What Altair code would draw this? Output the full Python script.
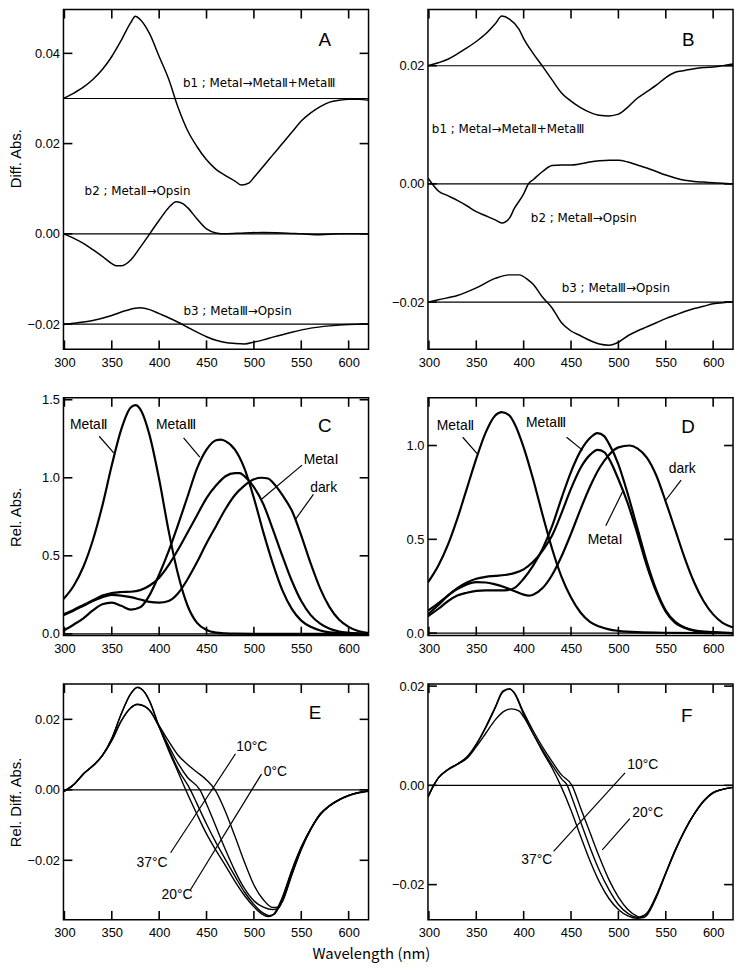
import altair as alt
import pandas as pd

# ---------------- data ----------------
XTICKS = [300, 350, 400, 450, 500, 550, 600]
XDOM = [299, 621]

# Panel A
A_B1_NM = [299, 310, 320, 330, 340, 350, 360, 370, 375, 380, 390, 400, 410, 420, 430, 440, 450, 460, 470, 480, 487, 495, 500, 510, 520, 530, 540, 550, 560, 570, 580, 590, 600, 610, 621]
A_B1_V = [0.0300, 0.0312, 0.0325, 0.0342, 0.0364, 0.0393, 0.0429, 0.0468, 0.0482, 0.0475, 0.0443, 0.0393, 0.0343, 0.0280, 0.0229, 0.0193, 0.0164, 0.0143, 0.0129, 0.0117, 0.0108, 0.0113, 0.0125, 0.0150, 0.0175, 0.0200, 0.0225, 0.0250, 0.0268, 0.0282, 0.0292, 0.0296, 0.0298, 0.0298, 0.0296]
A_B2_NM = [299, 310, 320, 330, 340, 350, 355, 360, 370, 380, 390, 400, 410, 418, 425, 430, 440, 450, 460, 470, 490, 510, 530, 550, 570, 590, 610, 621]
A_B2_V = [0.0, -0.0010, -0.0021, -0.0035, -0.0050, -0.0066, -0.0071, -0.0071, -0.0058, -0.0030, 0.0000, 0.0030, 0.0058, 0.0071, 0.0067, 0.0058, 0.0033, 0.0011, 0.0002, 0.0, 0.0002, 0.0003, 0.0002, 0.0, -0.0002, 0.0, 0.0, 0.0]
A_B3_NM = [299, 310, 330, 350, 365, 380, 390, 400, 410, 420, 430, 440, 450, 460, 470, 480, 490, 500, 510, 520, 540, 560, 580, 600, 621]
A_B3_V = [-0.0201, -0.0198, -0.0192, -0.0181, -0.0170, -0.0164, -0.0168, -0.0177, -0.0186, -0.0196, -0.0207, -0.0218, -0.0228, -0.0236, -0.0241, -0.0243, -0.0244, -0.0240, -0.0235, -0.0229, -0.0218, -0.0209, -0.0204, -0.0201, -0.0200]
A_BASE = [0.03, 0.0, -0.02]
A_YTICKS = [-0.02, 0.0, 0.02, 0.04]

# Panel B
B_B1_NM = [299, 310, 320, 330, 340, 350, 360, 370, 377, 385, 395, 400, 410, 420, 430, 440, 450, 460, 470, 480, 490, 500, 510, 520, 530, 540, 550, 560, 570, 580, 590, 600, 610, 621]
B_B1_V = [0.0200, 0.0205, 0.0211, 0.0220, 0.0230, 0.0241, 0.0254, 0.0271, 0.0284, 0.0279, 0.0262, 0.0246, 0.0221, 0.0199, 0.0176, 0.0154, 0.0140, 0.0129, 0.0121, 0.0116, 0.0115, 0.0118, 0.0130, 0.0145, 0.0156, 0.0167, 0.0180, 0.0189, 0.0192, 0.0195, 0.0197, 0.0198, 0.0200, 0.0203]
B_B2_NM = [299, 305, 310, 320, 330, 340, 350, 360, 370, 377, 385, 390, 400, 405, 410, 420, 430, 440, 450, 460, 470, 480, 490, 500, 510, 520, 530, 540, 550, 560, 570, 580, 590, 600, 610, 621]
B_B2_V = [0.0010, -0.0003, -0.0012, -0.0020, -0.0028, -0.0037, -0.0047, -0.0054, -0.0061, -0.0066, -0.0058, -0.0042, -0.0017, 0.0000, 0.0007, 0.0021, 0.0031, 0.0032, 0.0032, 0.0034, 0.0037, 0.0039, 0.0040, 0.0040, 0.0037, 0.0032, 0.0027, 0.0021, 0.0015, 0.0010, 0.0006, 0.0004, 0.0003, 0.0002, 0.0001, 0.0000]
B_B3_NM = [299, 310, 330, 350, 370, 385, 395, 405, 410, 420, 430, 440, 450, 460, 470, 480, 490, 500, 510, 520, 530, 540, 550, 560, 570, 580, 590, 600, 610, 621]
B_B3_V = [-0.0200, -0.0196, -0.0189, -0.0176, -0.0160, -0.0154, -0.0154, -0.0163, -0.0170, -0.0192, -0.0210, -0.0235, -0.0249, -0.0257, -0.0265, -0.0271, -0.0273, -0.0268, -0.0257, -0.0249, -0.0242, -0.0235, -0.0228, -0.0222, -0.0216, -0.0211, -0.0207, -0.0203, -0.0201, -0.0200]
B_BASE = [0.02, 0.0, -0.02]
B_YTICKS = [-0.02, 0.0, 0.02]

# Panel C
C_M2_NM = [299, 310, 320, 330, 340, 350, 360, 370, 375, 380, 390, 400, 410, 420, 430, 440, 450, 460, 470, 480, 500, 550, 621]
C_M2_V = [0.223, 0.31, 0.43, 0.60, 0.82, 1.08, 1.31, 1.45, 1.465, 1.44, 1.27, 0.99, 0.66, 0.38, 0.18, 0.07, 0.025, 0.008, 0.003, 0.001, 0.0, 0.0, 0.0]
C_M3_NM = [299, 310, 320, 330, 340, 350, 360, 370, 380, 390, 400, 410, 420, 430, 440, 450, 460, 465, 470, 480, 490, 500, 510, 520, 530, 540, 550, 560, 570, 580, 600, 621]
C_M3_V = [0.02, 0.06, 0.10, 0.15, 0.19, 0.20, 0.18, 0.155, 0.17, 0.25, 0.38, 0.53, 0.70, 0.88, 1.06, 1.18, 1.24, 1.245, 1.235, 1.18, 1.06, 0.87, 0.65, 0.45, 0.28, 0.16, 0.085, 0.045, 0.022, 0.01, 0.003, 0.0]
C_M1_NM = [299, 310, 320, 330, 340, 350, 360, 370, 380, 390, 400, 410, 420, 430, 440, 450, 460, 470, 480, 485, 490, 500, 510, 520, 530, 540, 550, 560, 570, 580, 590, 600, 621]
C_M1_V = [0.125, 0.155, 0.185, 0.215, 0.245, 0.262, 0.268, 0.270, 0.28, 0.31, 0.36, 0.44, 0.54, 0.65, 0.76, 0.87, 0.95, 1.01, 1.03, 1.03, 1.01, 0.94, 0.83, 0.67, 0.50, 0.34, 0.21, 0.12, 0.065, 0.032, 0.015, 0.007, 0.0]
C_DK_NM = [299, 310, 320, 330, 340, 350, 360, 370, 380, 390, 400, 410, 420, 430, 440, 450, 460, 470, 480, 490, 500, 508, 515, 520, 530, 540, 550, 560, 570, 580, 590, 600, 610, 621]
C_DK_V = [0.12, 0.15, 0.18, 0.21, 0.235, 0.25, 0.245, 0.235, 0.22, 0.205, 0.20, 0.21, 0.26, 0.35, 0.46, 0.58, 0.69, 0.80, 0.89, 0.95, 0.99, 1.0, 0.995, 0.97, 0.89, 0.79, 0.63, 0.45, 0.29, 0.17, 0.09, 0.045, 0.018, 0.005]
C_YTICKS = [0.0, 0.5, 1.0, 1.5]

# Panel D
D_M2_NM = [299, 310, 320, 330, 340, 350, 360, 370, 377, 385, 390, 400, 410, 420, 430, 440, 450, 460, 470, 480, 490, 500, 520, 550, 621]
D_M2_V = [0.27, 0.36, 0.47, 0.61, 0.77, 0.93, 1.07, 1.16, 1.178, 1.16, 1.12, 0.99, 0.82, 0.63, 0.45, 0.30, 0.19, 0.11, 0.06, 0.035, 0.02, 0.012, 0.005, 0.002, 0.0]
D_M3_NM = [299, 310, 320, 330, 340, 350, 360, 370, 380, 390, 400, 410, 420, 430, 440, 450, 460, 470, 478, 485, 490, 500, 510, 520, 530, 540, 550, 560, 570, 580, 600, 621]
D_M3_V = [0.09, 0.13, 0.17, 0.20, 0.215, 0.225, 0.228, 0.228, 0.228, 0.24, 0.29, 0.36, 0.45, 0.57, 0.72, 0.86, 0.97, 1.04, 1.066, 1.05, 1.01, 0.90, 0.74, 0.56, 0.38, 0.23, 0.12, 0.06, 0.03, 0.015, 0.005, 0.0]
D_M1_NM = [299, 310, 320, 330, 340, 350, 360, 370, 380, 390, 400, 410, 420, 430, 440, 450, 460, 470, 478, 485, 490, 500, 510, 520, 530, 540, 550, 560, 570, 580, 600, 621]
D_M1_V = [0.10, 0.15, 0.20, 0.24, 0.27, 0.29, 0.30, 0.305, 0.31, 0.32, 0.34, 0.38, 0.44, 0.52, 0.64, 0.77, 0.88, 0.95, 0.977, 0.965, 0.93, 0.82, 0.69, 0.53, 0.36, 0.22, 0.115, 0.055, 0.027, 0.013, 0.004, 0.0]
D_DK_NM = [299, 310, 320, 330, 340, 350, 360, 370, 380, 390, 400, 405, 410, 420, 430, 440, 450, 460, 470, 480, 490, 500, 512, 520, 530, 540, 550, 560, 570, 580, 590, 600, 610, 621]
D_DK_V = [0.12, 0.16, 0.20, 0.235, 0.26, 0.272, 0.27, 0.26, 0.245, 0.225, 0.205, 0.20, 0.205, 0.24, 0.31, 0.41, 0.53, 0.66, 0.78, 0.88, 0.95, 0.99, 1.0, 0.985, 0.935, 0.84, 0.70, 0.55, 0.40, 0.27, 0.17, 0.10, 0.055, 0.03]
D_YTICKS = [0.0, 0.5, 1.0]

# Panel E
E_37_NM = [299, 310, 320, 330, 340, 350, 360, 370, 377, 385, 390, 400, 410, 420, 428, 440, 450, 460, 470, 480, 490, 500, 510, 515, 520, 530, 540, 550, 560, 570, 580, 590, 600, 610, 621]
E_37_V = [-0.0005, 0.0015, 0.0045, 0.0068, 0.0097, 0.0145, 0.0215, 0.0272, 0.0291, 0.0275, 0.0250, 0.0178, 0.0112, 0.0050, 0.0000, -0.0070, -0.0125, -0.0172, -0.0215, -0.0260, -0.0300, -0.0332, -0.0355, -0.0360, -0.0355, -0.0305, -0.0228, -0.0162, -0.0110, -0.0068, -0.0044, -0.0028, -0.0016, -0.0008, -0.0003]
E_20_NM = [299, 310, 320, 330, 340, 350, 360, 370, 377, 385, 390, 400, 410, 420, 433, 440, 450, 460, 470, 480, 490, 500, 510, 516, 522, 530, 540, 550, 560, 570, 580, 590, 600, 610, 621]
E_20_V = [-0.0005, 0.0015, 0.0045, 0.0068, 0.0097, 0.0146, 0.0216, 0.0273, 0.0290, 0.0276, 0.0252, 0.0180, 0.0118, 0.0058, 0.0000, -0.0040, -0.0097, -0.0150, -0.0198, -0.0245, -0.0290, -0.0325, -0.0350, -0.0357, -0.0352, -0.0310, -0.0232, -0.0164, -0.0111, -0.0069, -0.0045, -0.0028, -0.0016, -0.0008, -0.0003]
E_10_NM = [299, 310, 320, 330, 340, 350, 360, 370, 377, 385, 390, 400, 410, 420, 430, 443, 450, 460, 470, 480, 490, 500, 510, 520, 526, 530, 540, 550, 560, 570, 580, 590, 600, 610, 621]
E_10_V = [-0.0005, 0.0015, 0.0045, 0.0068, 0.0097, 0.0140, 0.0195, 0.0232, 0.0242, 0.0236, 0.0225, 0.0178, 0.0125, 0.0075, 0.0035, 0.0000, -0.0040, -0.0105, -0.0170, -0.0230, -0.0280, -0.0315, -0.0333, -0.0340, -0.0336, -0.0315, -0.0240, -0.0168, -0.0112, -0.0070, -0.0045, -0.0028, -0.0016, -0.0008, -0.0003]
E_0_NM = [299, 310, 320, 330, 340, 350, 360, 370, 377, 385, 390, 400, 410, 420, 430, 440, 450, 459, 470, 480, 490, 500, 510, 520, 525, 530, 540, 550, 560, 570, 580, 590, 600, 610, 621]
E_0_V = [-0.0005, 0.0015, 0.0045, 0.0068, 0.0097, 0.0140, 0.0196, 0.0233, 0.0243, 0.0237, 0.0226, 0.0182, 0.0138, 0.0098, 0.0072, 0.0050, 0.0028, 0.0000, -0.0062, -0.0132, -0.0205, -0.0270, -0.0312, -0.0334, -0.0333, -0.0318, -0.0242, -0.0170, -0.0113, -0.0071, -0.0046, -0.0029, -0.0017, -0.0009, -0.0004]
E_YTICKS = [-0.02, 0.0, 0.02]

# Panel F
F_37_NM = [299, 305, 310, 320, 330, 340, 350, 360, 370, 378, 385, 390, 400, 410, 420, 430, 439, 450, 460, 470, 480, 490, 500, 510, 520, 530, 540, 550, 560, 570, 580, 590, 600, 610, 621]
F_37_V = [-0.0024, 0.0000, 0.0015, 0.0032, 0.0043, 0.0057, 0.0083, 0.0118, 0.0158, 0.0190, 0.0195, 0.0186, 0.0143, 0.0104, 0.0068, 0.0035, 0.0000, -0.0050, -0.0102, -0.0152, -0.0195, -0.0228, -0.0250, -0.0263, -0.0268, -0.0258, -0.0222, -0.0176, -0.0130, -0.0090, -0.0057, -0.0031, -0.0014, -0.0008, -0.0004]
F_10_NM = [299, 305, 310, 320, 330, 340, 350, 360, 370, 380, 387, 395, 400, 410, 420, 430, 440, 446, 450, 460, 470, 480, 490, 500, 510, 520, 530, 540, 550, 560, 570, 580, 590, 600, 610, 621]
F_10_V = [-0.0022, 0.0000, 0.0015, 0.0031, 0.0042, 0.0054, 0.0078, 0.0105, 0.0132, 0.0150, 0.0154, 0.0150, 0.0138, 0.0104, 0.0071, 0.0041, 0.0013, 0.0000, -0.0020, -0.0073, -0.0125, -0.0172, -0.0210, -0.0240, -0.0258, -0.0266, -0.0258, -0.0223, -0.0177, -0.0131, -0.0091, -0.0058, -0.0032, -0.0015, -0.0008, -0.0004]
F_20_NM = [299, 305, 310, 320, 330, 340, 350, 360, 370, 378, 385, 390, 400, 410, 420, 430, 440, 451, 460, 470, 480, 490, 500, 510, 520, 525, 530, 540, 550, 560, 570, 580, 590, 600, 610, 621]
F_20_V = [-0.0024, 0.0000, 0.0015, 0.0032, 0.0043, 0.0056, 0.0082, 0.0116, 0.0156, 0.0188, 0.0194, 0.0187, 0.0147, 0.0110, 0.0077, 0.0048, 0.0021, 0.0000, -0.0045, -0.0095, -0.0145, -0.0190, -0.0225, -0.0250, -0.0264, -0.0267, -0.0262, -0.0226, -0.0178, -0.0132, -0.0092, -0.0058, -0.0032, -0.0015, -0.0008, -0.0004]
F_YTICKS = [-0.02, 0.0, 0.02]

# annotation texts: (x, y, text)
A_LABELS = [(425.1, 0.0334, "b1 ; Meta\u2160\u2192Meta\u2161+Meta\u2162"),
            (321.3, 0.0094, "b2 ; Meta\u2161\u2192Opsin"),
            (425.7, -0.0172, "b3 ; Meta\u2162\u2192Opsin")]
B_LABELS = [(303.1, 0.0092, "b1 ; Meta\u2160\u2192Meta\u2161+Meta\u2162"),
            (407.6, -0.0057, "b2 ; Meta\u2161\u2192Opsin"),
            (440.2, -0.0177, "b3 ; Meta\u2162\u2192Opsin")]
C_LABELS = [(305.9, 1.340, "Meta\u2161"), (396.6, 1.340, "Meta\u2162"),
            (552.5, 1.113, "Meta\u2160"), (559.4, 0.932, "dark")]
C_LEADERS = [(336.7, 1.266, 352.1, 1.160), (425.8, 1.255, 442.9, 1.132),
             (550.8, 1.081, 508.0, 0.862), (562.8, 0.894, 543.9, 0.734)]
D_LABELS = [(308.3, 1.105, "Meta\u2161"), (402.5, 1.122, "Meta\u2162"),
            (467.6, 0.4965, "Meta\u2160"), (553.2, 0.874, "dark")]
D_LEADERS = [(335.7, 1.044, 351.1, 0.956), (445.3, 1.044, 462.4, 0.974),
             (486.7, 0.572, 504.5, 0.755), (566.2, 0.816, 549.1, 0.703)]
E_TEMPS = [(497.7, 0.0122, "10°C"), (522.7, 0.0051, "0°C"),
           (392.5, -0.0208, "37°C"), (418.9, -0.0300, "20°C")]
E_LEADERS = [(480.6, 0.01023, 412.1, -0.01786), (508.0, 0.00447, 432.6, -0.02856)]
F_TEMPS = [(525.8, 0.00415, "10°C"), (530.9, -0.0056, "20°C"), (413.8, -0.01496, "37°C")]
F_LEADERS = [(507.0, 0.0025, 431.6, -0.0133), (512.1, -0.0067, 483.0, -0.0130)]
LETTERS = {"A": (574.7, 0.0429), "B": (573.8, 0.02436), "C": (574.8, 1.330),
           "D": (573.6, 1.096), "E": (564.5, 0.02167), "F": (572.1, 0.01404)}

# ---------------- layout / style ----------------
W = 308
H_TOP, H_MID, H_BOT = 343, 240, 238
FONT = "Liberation Sans"
BFONT = "DejaVu Sans"
CFONT = "Liberation Sans, DejaVu Sans"
TICK_PX = 9


def series_df(series):
    rows = []
    for name, xs, ys in series:
        for x, y in zip(xs, ys):
            rows.append({"x": x, "y": y, "s": name})
    return pd.DataFrame(rows)


def panel(letter, series, ydom, yticks, yfmt, h, sw, baselines=None, labels=None,
          label_font=CFONT, label_size=14, leaders=None, temps=None, ytitle=None,
          title_y=None):
    xs = alt.Scale(domain=XDOM, nice=False, zero=False)
    ys = alt.Scale(domain=ydom, nice=False, zero=False)
    xax = alt.Axis(values=XTICKS, format="d", title=None, ticks=False, tickSize=0,
                   domain=False, grid=False, labelPadding=7, labelFlush=False)
    ykw = dict(values=yticks, format=yfmt, ticks=False, tickSize=0, domain=False,
               grid=False, labelPadding=4, minExtent=36, maxExtent=36, titlePadding=4,
               title=ytitle, labelFlush=False)
    if title_y is not None:
        ykw["titleY"] = title_y
    yax = alt.Axis(**ykw)

    def X(f="x"):
        return alt.X(f"{f}:Q", scale=xs, axis=xax)

    def Y(f="y"):
        return alt.Y(f"{f}:Q", scale=ys, axis=yax)

    layers = []
    layers.append(alt.Chart(series_df(series)).mark_line(
        color="black", strokeWidth=sw, interpolate="monotone", clip=True).encode(
        x=X(), y=Y(), detail="s:N"))
    if baselines:
        layers.append(alt.Chart(pd.DataFrame({"y": baselines})).mark_rule(
            color="black", strokeWidth=1.2).encode(y=Y()))

    # inward tick marks on all four sides, as short segments in data space
    dx = TICK_PX / W * (XDOM[1] - XDOM[0])
    dy = TICK_PX / h * (ydom[1] - ydom[0])
    segs = []
    for t in XTICKS:
        segs.append((t, ydom[0], t, ydom[0] + dy))
        segs.append((t, ydom[1], t, ydom[1] - dy))
    for t in yticks:
        segs.append((XDOM[0], t, XDOM[0] + dx, t))
        segs.append((XDOM[1], t, XDOM[1] - dx, t))
    tdf_ticks = pd.DataFrame(segs, columns=["x", "y", "x2", "y2"])
    layers.append(alt.Chart(tdf_ticks).mark_rule(color="black", strokeWidth=1.6).encode(
        x=X(), y=Y(), x2="x2", y2="y2"))
    if leaders:
        ldf = pd.DataFrame(leaders, columns=["x", "y", "x2", "y2"])
        layers.append(alt.Chart(ldf).mark_rule(color="black", strokeWidth=1.2).encode(
            x=X(), y=Y(), x2="x2", y2="y2"))

    if labels:
        tdf = pd.DataFrame(labels, columns=["x", "y", "t"])
        layers.append(alt.Chart(tdf).mark_text(
            align="left", baseline="middle", font=label_font, fontSize=label_size,
            color="black").encode(x=X(), y=Y(), text="t:N"))
    if temps:
        tdf = pd.DataFrame(temps, columns=["x", "y", "t"])
        layers.append(alt.Chart(tdf).mark_text(
            align="center", baseline="middle", font=FONT, fontSize=14, color="black").encode(
            x=X(), y=Y(), text="t:N"))
    lx, ly = LETTERS[letter]
    layers.append(alt.Chart(pd.DataFrame({"x": [lx], "y": [ly], "t": [letter]})).mark_text(
        align="center", baseline="middle", font=FONT, fontSize=19, color="black").encode(
        x=X(), y=Y(), text="t:N"))
    return alt.layer(*layers).properties(width=W, height=h)


pA = panel("A", [("b1", A_B1_NM, A_B1_V), ("b2", A_B2_NM, A_B2_V), ("b3", A_B3_NM, A_B3_V)],
           [-0.0256, 0.0497], A_YTICKS, ".2f", H_TOP, 1.5, baselines=A_BASE, labels=A_LABELS,
           label_font=BFONT, label_size=12, ytitle="Diff. Abs.", title_y=150)
pB = panel("B", [("b1", B_B1_NM, B_B1_V), ("b2", B_B2_NM, B_B2_V), ("b3", B_B3_NM, B_B3_V)],
           [-0.0280, 0.0295], B_YTICKS, ".2f", H_TOP, 1.5, baselines=B_BASE, labels=B_LABELS,
           label_font=BFONT, label_size=12)
pC = panel("C", [("m2", C_M2_NM, C_M2_V), ("m3", C_M3_NM, C_M3_V), ("m1", C_M1_NM, C_M1_V),
                 ("dk", C_DK_NM, C_DK_V)],
           [-0.011, 1.512], C_YTICKS, ".1f", H_MID, 2.2, baselines=[0.0], labels=C_LABELS,
           leaders=C_LEADERS, ytitle="Rel. Abs.")
pD = panel("D", [("m2", D_M2_NM, D_M2_V), ("m3", D_M3_NM, D_M3_V), ("m1", D_M1_NM, D_M1_V),
                 ("dk", D_DK_NM, D_DK_V)],
           [-0.013, 1.254], D_YTICKS, ".1f", H_MID, 2.2, baselines=[0.0], labels=D_LABELS,
           leaders=D_LEADERS)
pE = panel("E", [("t37", E_37_NM, E_37_V), ("t20", E_20_NM, E_20_V), ("t10", E_10_NM, E_10_V),
                 ("t0", E_0_NM, E_0_V)],
           [-0.0369, 0.0300], E_YTICKS, ".2f", H_BOT, 1.4, baselines=[0.0], temps=E_TEMPS,
           leaders=E_LEADERS, ytitle="Rel. Diff. Abs.")
pF = panel("F", [("t37", F_37_NM, F_37_V), ("t10", F_10_NM, F_10_V), ("t20", F_20_NM, F_20_V)],
           [-0.0271, 0.0204], F_YTICKS, ".2f", H_BOT, 1.4, baselines=[0.0], temps=F_TEMPS,
           leaders=F_LEADERS)

chart = alt.concat(pA, pB, pC, pD, pE, pF, columns=2,
                   spacing={"row": 23, "column": 20}).properties(
    title=alt.TitleParams(text="Wavelength (nm)", orient="bottom", anchor="middle",
                          font="Noto Sans CJK JP", fontSize=15, fontWeight="normal",
                          color="black", offset=7),
    padding={"left": 0, "right": 2, "top": -5, "bottom": 0},
).configure_view(stroke="black", strokeWidth=1.5).configure_axis(
    labelFont=FONT, labelFontSize=13, labelColor="black", titleFont=FONT,
    titleFontSize=15, titleFontWeight="normal", titleColor="black")

chart.save("out.html", embed_options={"renderer": "svg", "actions": False})
